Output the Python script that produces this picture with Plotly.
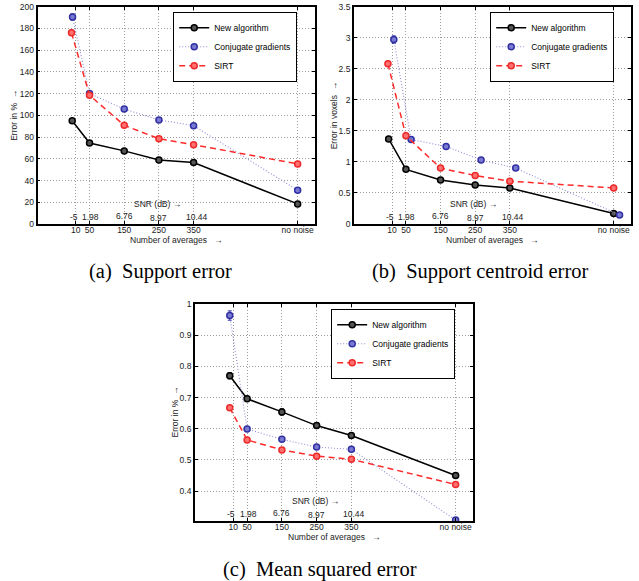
import plotly.graph_objects as go

# ---------------- data ----------------
x_tickvals = [10, 50, 150, 250, 350, 650]
x_ticktext = ["10", "50", "150", "250", "350", "no noise"]
snr_labels = ["-5", "1.98", "6.76", "8.97", "10.44"]
series_names = ["New algorithm", "Conjugate gradients", "SIRT"]

# (a) Support error
a_new_x = [0, 50, 150, 250, 350, 650]
a_new_y = [95, 74.5, 67.3, 59, 56.5, 18.5]
a_new_e = [1.8, 1, 1, 1, 1, 0.6]
a_cg_x = [1, 50, 150, 250, 350, 650]
a_cg_y = [190.5, 120, 105.8, 95.8, 90.5, 31]
a_cg_e = [3, 1.5, 1, 1, 1, 0.6]
a_sirt_x = [-2, 50, 150, 250, 350, 650]
a_sirt_y = [176, 118.5, 90.8, 78.5, 73, 55.3]
a_sirt_e = [2.5, 2, 1, 1, 1, 0.6]

# (b) Support centroid error
b_new_x = [0, 50, 150, 250, 350, 650]
b_new_y = [1.37, 0.88, 0.71, 0.63, 0.58, 0.17]
b_new_e = [0.04, 0.02, 0.015, 0.015, 0.015, 0.01]
b_cg_x = [15, 65, 166, 267, 367, 667]
b_cg_y = [2.97, 1.36, 1.25, 1.03, 0.9, 0.145]
b_cg_e = [0.06, 0.03, 0.02, 0.02, 0.015, 0.01]
b_sirt_x = [-2, 50, 150, 250, 350, 650]
b_sirt_y = [2.58, 1.42, 0.9, 0.78, 0.69, 0.58]
b_sirt_e = [0.04, 0.03, 0.02, 0.015, 0.015, 0.01]

# (c) Mean squared error
c_new_x = [0, 50, 150, 250, 350, 650]
c_new_y = [0.77, 0.696, 0.654, 0.61, 0.578, 0.45]
c_new_e = [0.01, 0.008, 0.01, 0.009, 0.007, 0.003]
c_cg_x = [0, 50, 150, 250, 350, 650]
c_cg_y = [0.963, 0.599, 0.566, 0.541, 0.534, 0.307]
c_cg_e = [0.015, 0.003, 0.003, 0.003, 0.003, 0.002]
c_sirt_x = [0, 50, 150, 250, 350, 650]
c_sirt_y = [0.667, 0.564, 0.532, 0.512, 0.502, 0.421]
c_sirt_e = [0.003, 0.003, 0.003, 0.003, 0.003, 0.003]

a_yticks = [0, 20, 40, 60, 80, 100, 120, 140, 160, 180, 200]
b_yticks = [0, 0.5, 1, 1.5, 2, 2.5, 3, 3.5]
c_yticks = [0.4, 0.5, 0.6, 0.7, 0.8, 0.9, 1]

captions = ["(a)  Support error", "(b)  Support centroid error", "(c)  Mean squared error"]
y_titles = ["Error in %  \u2192", "Error in voxels  \u2192", "Error in %  \u2192"]

# ---------------- styles ----------------
FONT = "Liberation Sans, Arial, sans-serif"
FS = 8.5
styles = [
    dict(line=dict(color="black", width=1.5, dash="solid"),
         marker=dict(symbol="circle", size=6, color="#555555", line=dict(width=1.5, color="black")),
         ecolor="black"),
    dict(line=dict(color="#8e8ed8", width=1.1, dash="1px,2px"),
         marker=dict(symbol="circle", size=6, color="#7a7ad0", line=dict(width=1.5, color="#3030a4")),
         ecolor="#3434a8"),
    dict(line=dict(color="#ff2a2a", width=1.5, dash="6px,4px"),
         marker=dict(symbol="circle", size=6, color="#ff7070", line=dict(width=1.5, color="#ec2a2a")),
         ecolor="#f03030"),
]

panels = [
    dict(xs=[a_new_x, a_cg_x, a_sirt_x], ys=[a_new_y, a_cg_y, a_sirt_y], es=[a_new_e, a_cg_e, a_sirt_e],
         xdom=[37.5 / 639, 315 / 639], ydom=[1 - 224 / 581, 1 - 6.7 / 581],
         yrange=[0, 200], yticks=a_yticks, legend_xy=(297 / 639, 1 - 12 / 581), ytshift=-23,
         cap_xy=(161 / 639, 1 - 271 / 581)),
    dict(xs=[b_new_x, b_cg_x, b_sirt_x], ys=[b_new_y, b_cg_y, b_sirt_y], es=[b_new_e, b_cg_e, b_sirt_e],
         xdom=[354 / 639, 631 / 639], ydom=[1 - 224 / 581, 1 - 6.7 / 581],
         yrange=[0, 3.5], yticks=b_yticks, legend_xy=(614 / 639, 1 - 12 / 581), ytshift=-20,
         cap_xy=(480 / 639, 1 - 271 / 581)),
    dict(xs=[c_new_x, c_cg_x, c_sirt_x], ys=[c_new_y, c_cg_y, c_sirt_y], es=[c_new_e, c_cg_e, c_sirt_e],
         xdom=[195 / 639, 473 / 639], ydom=[1 - 521 / 581, 1 - 304 / 581],
         yrange=[0.304, 1.0], yticks=c_yticks, legend_xy=(455 / 639, 1 - 309 / 581), ytshift=-21,
         cap_xy=(320 / 639, 1 - 569 / 581)),
]

snr_xshift = [-2, 1, 0, 0, 3]
snr_yshift = [0, 0, 1, -1, 0]

fig = go.Figure()
annotations = []
layout = {}

for i, p in enumerate(panels):
    sfx = "" if i == 0 else str(i + 1)
    xa, ya = "x" + sfx, "y" + sfx
    leg = "legend" + sfx
    for k in range(3):
        st = styles[k]
        fig.add_trace(go.Scatter(
            x=p["xs"][k], y=p["ys"][k], mode="lines+markers", name=series_names[k],
            line=st["line"], marker=st["marker"],
            error_y=dict(type="data", array=p["es"][k], visible=True, color=st["ecolor"], thickness=1, width=2),
            xaxis=xa, yaxis=ya, legend=leg, showlegend=True,
        ))
    axis_common = dict(showline=True, linecolor="black", linewidth=1.8, mirror="ticks",
                       ticks="inside", ticklen=3, tickcolor="black", tickwidth=1,
                       showgrid=True, gridcolor="#9c9c9c", griddash="1px,2px", gridwidth=1,
                       zeroline=False, automargin=False,
                       tickfont=dict(family=FONT, size=FS, color="#222"))
    layout["xaxis" + sfx] = dict(domain=p["xdom"], range=[-100, 700], tickmode="array",
                                 tickvals=x_tickvals, ticktext=x_ticktext, anchor=ya,
                                 ticklabelstandoff=-3, **axis_common)
    layout["yaxis" + sfx] = dict(domain=p["ydom"], range=p["yrange"], tickmode="array",
                                 tickvals=p["yticks"], ticktext=[("%g" % v) for v in p["yticks"]],
                                 anchor=xa, **axis_common)
    layout[leg] = dict(x=p["legend_xy"][0], y=p["legend_xy"][1], xanchor="right", yanchor="top",
                       xref="paper", yref="paper", bgcolor="white", bordercolor="black", borderwidth=1.2,
                       font=dict(family=FONT, size=FS, color="black"), itemwidth=30, tracegroupgap=0)
    # SNR annotations
    annotations.append(dict(text="SNR (dB) \u2192", xref=xa, x=172, xanchor="left",
                            yref=ya + " domain", y=0.094, yanchor="middle", showarrow=False,
                            font=dict(family=FONT, size=FS, color="#222")))
    for j, lab in enumerate(snr_labels):
        annotations.append(dict(text=lab, xref=xa, x=x_tickvals[j], xanchor="center",
                                yref=ya + " domain", y=0.032, yanchor="middle", showarrow=False,
                                xshift=snr_xshift[j], yshift=snr_yshift[j],
                                font=dict(family=FONT, size=FS, color="#222")))
    # axis titles
    annotations.append(dict(text="Number of averages   \u2192", xref=xa + " domain", x=0.5, xanchor="center",
                            yref=ya + " domain", y=0, yanchor="middle", yshift=-16, showarrow=False,
                            font=dict(family=FONT, size=FS, color="#222")))
    annotations.append(dict(text=y_titles[i], xref=xa + " domain", x=0, xanchor="center", xshift=p["ytshift"],
                            yref=ya + " domain", y=0.5, yanchor="middle", textangle=-90, showarrow=False,
                            font=dict(family=FONT, size=FS, color="#222")))
    # caption
    annotations.append(dict(text=captions[i], xref="paper", yref="paper", x=p["cap_xy"][0], y=p["cap_xy"][1],
                            xanchor="center", yanchor="middle", showarrow=False,
                            font=dict(family="Liberation Serif, Times New Roman, serif", size=20.5, color="black")))

fig.update_layout(**layout)
fig.update_layout(width=639, height=581, margin=dict(l=0, r=0, t=0, b=0),
                  paper_bgcolor="white", plot_bgcolor="white", annotations=annotations,
                  font=dict(family=FONT, size=FS, color="#222"))
fig.write_html("out.html", config={"displayModeBar": False},
               post_script="document.body.style.margin='0';")
